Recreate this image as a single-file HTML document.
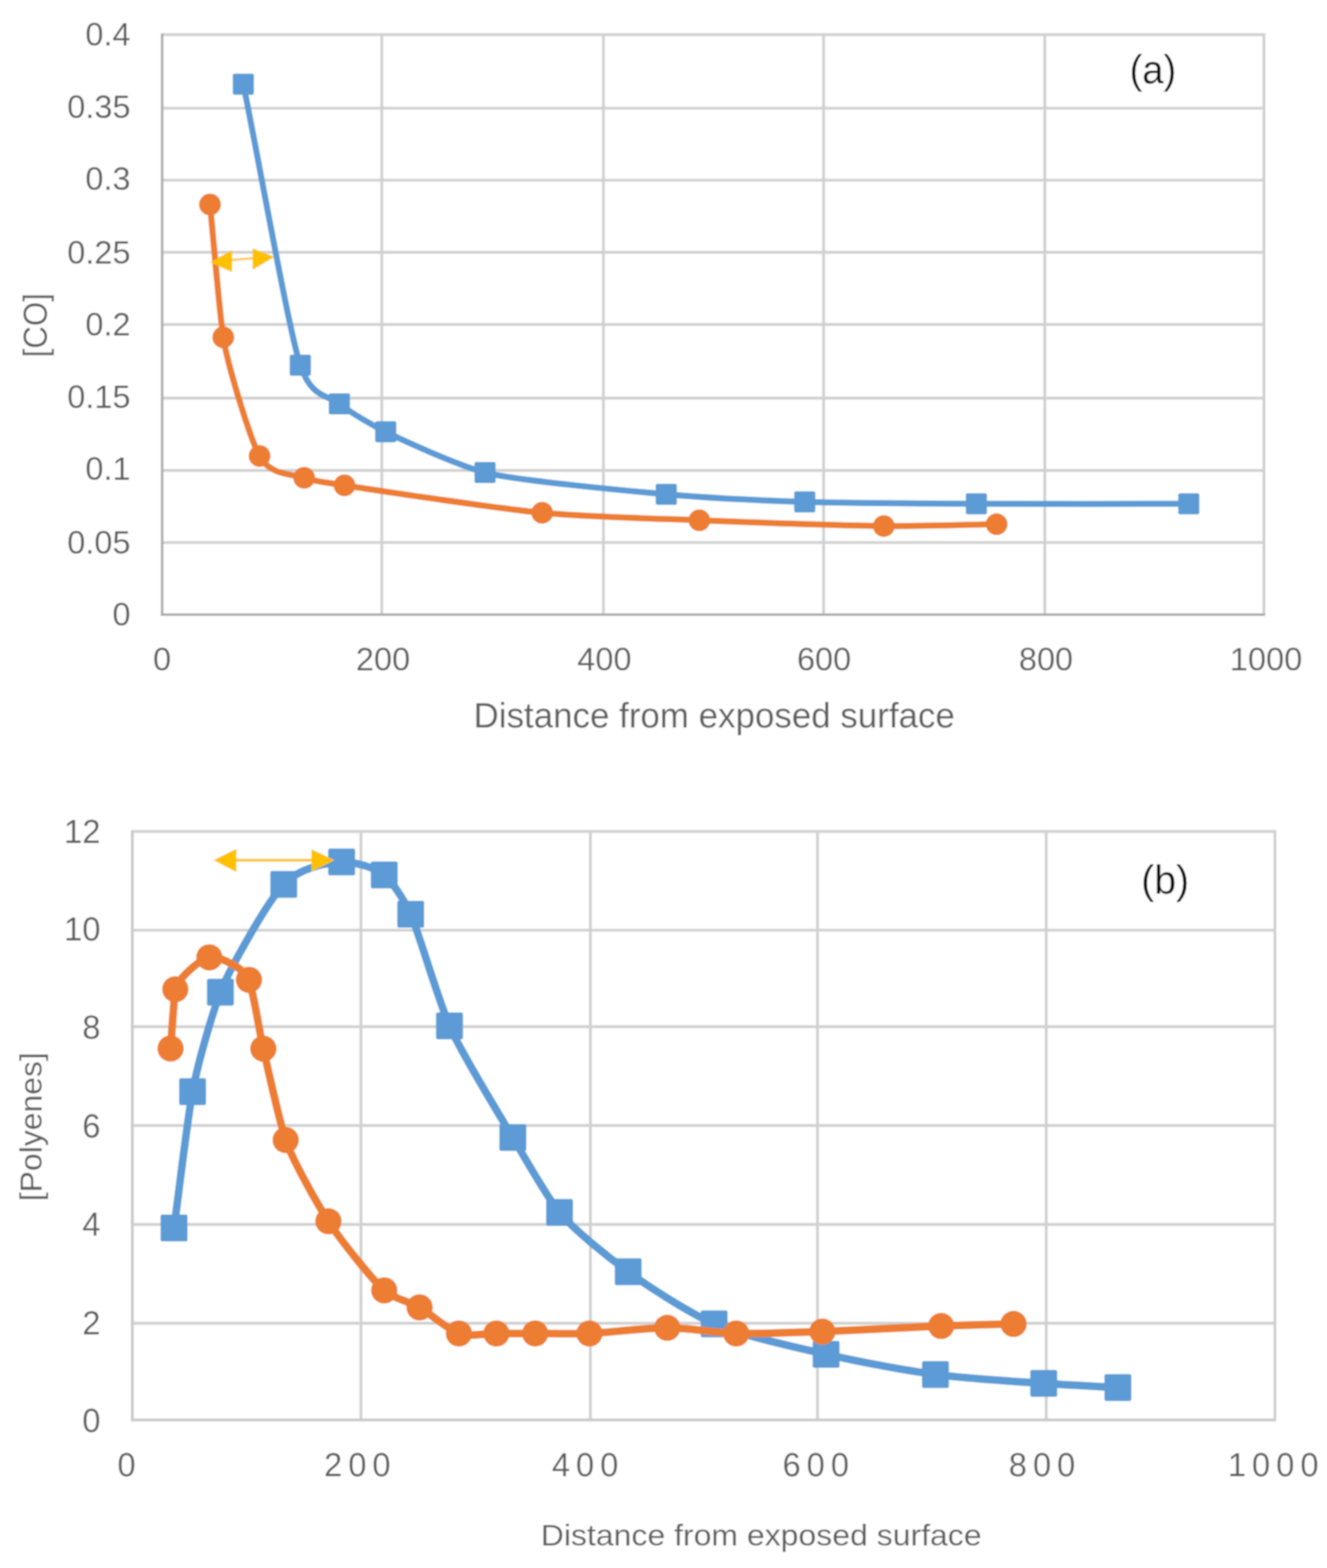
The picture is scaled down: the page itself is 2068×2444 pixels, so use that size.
<!DOCTYPE html>
<html><head><meta charset="utf-8"><title>Chart</title>
<style>html,body{margin:0;padding:0;background:#fff;width:2068px;height:2444px;overflow:hidden}svg{display:block}</style>
</head><body>
<svg width="2068" height="2444" viewBox="0 0 2068 2444" font-family="'Liberation Sans', sans-serif">
<defs><filter id="bl" x="0" y="0" width="1" height="1"><feGaussianBlur stdDeviation="0.8"/></filter></defs>
<g filter="url(#bl)">
<rect width="2068" height="2444" fill="#FFFFFF"/>
<line x1="252.7" y1="54.0" x2="1971.8" y2="54.0" stroke="#D0D0D0" stroke-width="4.4"/>
<line x1="252.7" y1="168.6" x2="1971.8" y2="168.6" stroke="#D0D0D0" stroke-width="4.4"/>
<line x1="252.7" y1="280.9" x2="1971.8" y2="280.9" stroke="#D0D0D0" stroke-width="4.4"/>
<line x1="252.7" y1="393.2" x2="1971.8" y2="393.2" stroke="#D0D0D0" stroke-width="4.4"/>
<line x1="252.7" y1="505.8" x2="1971.8" y2="505.8" stroke="#D0D0D0" stroke-width="4.4"/>
<line x1="252.7" y1="620.5" x2="1971.8" y2="620.5" stroke="#D0D0D0" stroke-width="4.4"/>
<line x1="252.7" y1="733.2" x2="1971.8" y2="733.2" stroke="#D0D0D0" stroke-width="4.4"/>
<line x1="252.7" y1="845.6" x2="1971.8" y2="845.6" stroke="#D0D0D0" stroke-width="4.4"/>
<line x1="595.0" y1="52.0" x2="595.0" y2="958.0" stroke="#D0D0D0" stroke-width="4.4"/>
<line x1="940.4" y1="52.0" x2="940.4" y2="958.0" stroke="#D0D0D0" stroke-width="4.4"/>
<line x1="1283.5" y1="52.0" x2="1283.5" y2="958.0" stroke="#D0D0D0" stroke-width="4.4"/>
<line x1="1628.2" y1="52.0" x2="1628.2" y2="958.0" stroke="#D0D0D0" stroke-width="4.4"/>
<line x1="1969.8" y1="52.0" x2="1969.8" y2="958.0" stroke="#D0D0D0" stroke-width="4.4"/>
<line x1="252.7" y1="52.0" x2="252.7" y2="960.0" stroke="#ADADAD" stroke-width="4"/>
<line x1="250.7" y1="958.0" x2="1971.8" y2="958.0" stroke="#ADADAD" stroke-width="4"/>
<path d="M379.2,131.3 C405.0,258.3 450.3,516.9 468.0,569.2 C485.7,621.5 511.2,615.3 528.9,629.4 C546.6,643.5 580.2,662.5 601.1,673.1 C622.0,683.7 711.0,724.6 755.9,736.5 C800.8,748.4 975.7,764.9 1038.3,770.4 C1100.9,775.9 1191.5,780.1 1254.1,782.2 C1316.7,784.3 1444.0,784.9 1521.6,785.3 C1599.2,785.7 1756.6,785.3 1852.6,785.3" fill="none" stroke="#5B9BD5" stroke-width="9.5" stroke-linejoin="round" stroke-linecap="round"/>
<rect x="362.7" y="114.8" width="33" height="33" rx="3" fill="#5B9BD5"/>
<rect x="451.5" y="552.7" width="33" height="33" rx="3" fill="#5B9BD5"/>
<rect x="512.4" y="612.9" width="33" height="33" rx="3" fill="#5B9BD5"/>
<rect x="584.6" y="656.6" width="33" height="33" rx="3" fill="#5B9BD5"/>
<rect x="739.4" y="720.0" width="33" height="33" rx="3" fill="#5B9BD5"/>
<rect x="1021.8" y="753.9" width="33" height="33" rx="3" fill="#5B9BD5"/>
<rect x="1237.6" y="765.7" width="33" height="33" rx="3" fill="#5B9BD5"/>
<rect x="1505.1" y="768.8" width="33" height="33" rx="3" fill="#5B9BD5"/>
<rect x="1836.1" y="768.8" width="33" height="33" rx="3" fill="#5B9BD5"/>
<path d="M327.2,318.8 C333.2,378.8 341.9,485.9 347.9,525.7 C353.9,565.5 388.1,680.0 404.5,710.8 C420.9,741.6 455.8,738.5 474.0,744.7 C492.2,750.9 518.7,753.5 536.9,756.5 C555.1,759.5 773.8,792.7 844.9,799.3 C916.0,805.9 1018.9,808.2 1089.9,811.0 C1161.0,813.8 1326.4,819.5 1377.4,819.9 C1428.4,820.3 1502.1,817.9 1553.1,817.1" fill="none" stroke="#ED7D31" stroke-width="9.5" stroke-linejoin="round" stroke-linecap="round"/>
<circle cx="327.2" cy="318.8" r="17" fill="#ED7D31"/>
<circle cx="347.9" cy="525.7" r="17" fill="#ED7D31"/>
<circle cx="404.5" cy="710.8" r="17" fill="#ED7D31"/>
<circle cx="474.0" cy="744.7" r="17" fill="#ED7D31"/>
<circle cx="536.9" cy="756.5" r="17" fill="#ED7D31"/>
<circle cx="844.9" cy="799.3" r="17" fill="#ED7D31"/>
<circle cx="1089.9" cy="811.0" r="17" fill="#ED7D31"/>
<circle cx="1377.4" cy="819.9" r="17" fill="#ED7D31"/>
<circle cx="1553.1" cy="817.1" r="17" fill="#ED7D31"/>
<line x1="361" y1="405.3" x2="394" y2="402.5" stroke="#FFC000" stroke-width="3"/>
<polygon points="327.1,408.9 361.6,389.8 361.6,424.0" fill="#FFC000"/>
<polygon points="427.5,400.6 393.7,387.1 393.7,420.4" fill="#FFC000"/>
<text x="203.5" y="71.4" font-size="50.7" text-anchor="end" fill="#5F5F5F">0.4</text>
<text x="203.5" y="183.5" font-size="50.7" text-anchor="end" fill="#5F5F5F">0.35</text>
<text x="203.5" y="295.7" font-size="50.7" text-anchor="end" fill="#5F5F5F">0.3</text>
<text x="203.5" y="411.2" font-size="50.7" text-anchor="end" fill="#5F5F5F">0.25</text>
<text x="203.5" y="523.4" font-size="50.7" text-anchor="end" fill="#5F5F5F">0.2</text>
<text x="203.5" y="635.8" font-size="50.7" text-anchor="end" fill="#5F5F5F">0.15</text>
<text x="203.5" y="748.0" font-size="50.7" text-anchor="end" fill="#5F5F5F">0.1</text>
<text x="203.5" y="862.9" font-size="50.7" text-anchor="end" fill="#5F5F5F">0.05</text>
<text x="203.5" y="975.3" font-size="50.7" text-anchor="end" fill="#5F5F5F">0</text>
<text x="252.7" y="1044.8" font-size="50.7" text-anchor="middle" fill="#5F5F5F">0</text>
<text x="596.8" y="1044.8" font-size="50.7" text-anchor="middle" fill="#5F5F5F">200</text>
<text x="941.8" y="1044.8" font-size="50.7" text-anchor="middle" fill="#5F5F5F">400</text>
<text x="1284.2" y="1044.8" font-size="50.7" text-anchor="middle" fill="#5F5F5F">600</text>
<text x="1630.0" y="1044.8" font-size="50.7" text-anchor="middle" fill="#5F5F5F">800</text>
<text x="1973.0" y="1044.8" font-size="50.7" text-anchor="middle" fill="#5F5F5F">1000</text>
<text x="1113.0" y="1134.4" font-size="55.5" text-anchor="middle" fill="#5F5F5F" textLength="750.0" lengthAdjust="spacingAndGlyphs">Distance from exposed surface</text>
<text x="0" y="0" font-size="51.0" text-anchor="middle" fill="#5F5F5F" transform="translate(72.8,507.0) rotate(-90)" textLength="100.0" lengthAdjust="spacingAndGlyphs">[CO]</text>
<text x="1796.7" y="130.0" font-size="62.5" text-anchor="middle" fill="#111" textLength="73.0" lengthAdjust="spacingAndGlyphs">(a)</text>
<line x1="206.2" y1="1296.0" x2="1988.9" y2="1296.0" stroke="#D0D0D0" stroke-width="4.4"/>
<line x1="206.2" y1="1449.9" x2="1988.9" y2="1449.9" stroke="#D0D0D0" stroke-width="4.4"/>
<line x1="206.2" y1="1600.3" x2="1988.9" y2="1600.3" stroke="#D0D0D0" stroke-width="4.4"/>
<line x1="206.2" y1="1754.3" x2="1988.9" y2="1754.3" stroke="#D0D0D0" stroke-width="4.4"/>
<line x1="206.2" y1="1908.5" x2="1988.9" y2="1908.5" stroke="#D0D0D0" stroke-width="4.4"/>
<line x1="206.2" y1="2062.5" x2="1988.9" y2="2062.5" stroke="#D0D0D0" stroke-width="4.4"/>
<line x1="562.5" y1="1294.0" x2="562.5" y2="2213.2" stroke="#D0D0D0" stroke-width="4.4"/>
<line x1="920.1" y1="1294.0" x2="920.1" y2="2213.2" stroke="#D0D0D0" stroke-width="4.4"/>
<line x1="1274.0" y1="1294.0" x2="1274.0" y2="2213.2" stroke="#D0D0D0" stroke-width="4.4"/>
<line x1="1630.4" y1="1294.0" x2="1630.4" y2="2213.2" stroke="#D0D0D0" stroke-width="4.4"/>
<line x1="1986.9" y1="1294.0" x2="1986.9" y2="2213.2" stroke="#D0D0D0" stroke-width="4.4"/>
<line x1="206.2" y1="1294.0" x2="206.2" y2="2215.2" stroke="#CBCBCB" stroke-width="4.5"/>
<line x1="204.2" y1="2213.2" x2="1988.9" y2="2213.2" stroke="#CBCBCB" stroke-width="4.5"/>
<path d="M271.2,1914.0 C279.6,1852.3 291.7,1747.2 300.1,1701.4 C308.5,1655.6 330.9,1579.8 343.5,1546.6 C356.1,1513.4 416.0,1406.0 442.2,1378.6 C468.4,1351.2 513.1,1344.3 532.4,1343.5 C551.7,1342.7 586.9,1353.1 598.8,1363.8 C610.7,1374.5 628.1,1399.0 640.0,1425.1 C651.9,1451.2 683.0,1558.4 700.5,1599.1 C718.0,1639.8 778.1,1737.5 799.2,1773.0 C820.3,1808.5 850.9,1863.7 872.0,1889.8 C893.1,1915.9 948.0,1959.5 979.0,1982.3 C1010.0,2005.1 1074.1,2046.4 1112.9,2063.4 C1151.7,2080.4 1238.0,2099.6 1287.4,2110.9 C1336.8,2122.2 1408.9,2135.9 1457.8,2142.4 C1506.7,2148.9 1593.0,2154.0 1626.5,2156.3 C1660.0,2158.6 1708.6,2160.9 1742.1,2162.8" fill="none" stroke="#5B9BD5" stroke-width="12" stroke-linejoin="round" stroke-linecap="round"/>
<rect x="250.2" y="1893.0" width="42" height="42" rx="3" fill="#5B9BD5"/>
<rect x="279.1" y="1680.4" width="42" height="42" rx="3" fill="#5B9BD5"/>
<rect x="322.5" y="1525.6" width="42" height="42" rx="3" fill="#5B9BD5"/>
<rect x="421.2" y="1357.6" width="42" height="42" rx="3" fill="#5B9BD5"/>
<rect x="511.4" y="1322.5" width="42" height="42" rx="3" fill="#5B9BD5"/>
<rect x="577.8" y="1342.8" width="42" height="42" rx="3" fill="#5B9BD5"/>
<rect x="619.0" y="1404.1" width="42" height="42" rx="3" fill="#5B9BD5"/>
<rect x="679.5" y="1578.1" width="42" height="42" rx="3" fill="#5B9BD5"/>
<rect x="778.2" y="1752.0" width="42" height="42" rx="3" fill="#5B9BD5"/>
<rect x="851.0" y="1868.8" width="42" height="42" rx="3" fill="#5B9BD5"/>
<rect x="958.0" y="1961.3" width="42" height="42" rx="3" fill="#5B9BD5"/>
<rect x="1091.9" y="2042.4" width="42" height="42" rx="3" fill="#5B9BD5"/>
<rect x="1266.4" y="2089.9" width="42" height="42" rx="3" fill="#5B9BD5"/>
<rect x="1436.8" y="2121.4" width="42" height="42" rx="3" fill="#5B9BD5"/>
<rect x="1605.5" y="2135.3" width="42" height="42" rx="3" fill="#5B9BD5"/>
<rect x="1721.1" y="2141.8" width="42" height="42" rx="3" fill="#5B9BD5"/>
<path d="M265.8,1634.3 C267.9,1607.5 271.1,1556.3 273.2,1541.9 C275.3,1527.5 310.8,1495.2 326.2,1492.3 C341.6,1489.4 381.5,1509.8 388.0,1527.2 C394.5,1544.6 403.9,1605.7 410.4,1634.6 C416.9,1663.5 435.1,1746.7 445.2,1776.9 C455.3,1807.1 492.5,1873.3 511.8,1903.6 C531.1,1933.9 582.8,1997.5 598.8,2011.2 C614.8,2024.9 637.9,2028.7 653.9,2037.8 C669.9,2046.9 698.3,2072.8 715.2,2078.4 C732.1,2084.0 756.7,2078.4 773.6,2078.4 C790.5,2078.4 816.5,2078.4 834.0,2078.4 C851.5,2078.4 894.1,2079.3 918.6,2078.4 C943.1,2077.5 1008.6,2069.5 1039.8,2069.6 C1071.0,2069.7 1116.2,2077.5 1147.4,2078.4 C1178.6,2079.3 1242.6,2076.8 1281.5,2075.5 C1320.4,2074.2 1434.0,2067.9 1466.7,2066.7 C1499.4,2065.5 1546.8,2064.5 1579.5,2063.6" fill="none" stroke="#ED7D31" stroke-width="12" stroke-linejoin="round" stroke-linecap="round"/>
<circle cx="265.8" cy="1634.3" r="20.5" fill="#ED7D31"/>
<circle cx="273.2" cy="1541.9" r="20.5" fill="#ED7D31"/>
<circle cx="326.2" cy="1492.3" r="20.5" fill="#ED7D31"/>
<circle cx="388.0" cy="1527.2" r="20.5" fill="#ED7D31"/>
<circle cx="410.4" cy="1634.6" r="20.5" fill="#ED7D31"/>
<circle cx="445.2" cy="1776.9" r="20.5" fill="#ED7D31"/>
<circle cx="511.8" cy="1903.6" r="20.5" fill="#ED7D31"/>
<circle cx="598.8" cy="2011.2" r="20.5" fill="#ED7D31"/>
<circle cx="653.9" cy="2037.8" r="20.5" fill="#ED7D31"/>
<circle cx="715.2" cy="2078.4" r="20.5" fill="#ED7D31"/>
<circle cx="773.6" cy="2078.4" r="20.5" fill="#ED7D31"/>
<circle cx="834.0" cy="2078.4" r="20.5" fill="#ED7D31"/>
<circle cx="918.6" cy="2078.4" r="20.5" fill="#ED7D31"/>
<circle cx="1039.8" cy="2069.6" r="20.5" fill="#ED7D31"/>
<circle cx="1147.4" cy="2078.4" r="20.5" fill="#ED7D31"/>
<circle cx="1281.5" cy="2075.5" r="20.5" fill="#ED7D31"/>
<circle cx="1466.7" cy="2066.7" r="20.5" fill="#ED7D31"/>
<circle cx="1579.5" cy="2063.6" r="20.5" fill="#ED7D31"/>
<line x1="367" y1="1340.8" x2="487" y2="1340.8" stroke="#FFC000" stroke-width="4"/>
<polygon points="332.9,1340.8 368.3,1323.1 368.3,1359.2" fill="#FFC000"/>
<polygon points="521.4,1340.8 485.3,1323.8 485.3,1358.5" fill="#FFC000"/>
<text x="156.5" y="1314.0" font-size="51.0" text-anchor="end" fill="#5F5F5F">12</text>
<text x="156.5" y="1466.2" font-size="51.0" text-anchor="end" fill="#5F5F5F">10</text>
<text x="156.5" y="1619.4" font-size="51.0" text-anchor="end" fill="#5F5F5F">8</text>
<text x="156.5" y="1772.5" font-size="51.0" text-anchor="end" fill="#5F5F5F">6</text>
<text x="156.5" y="1925.6" font-size="51.0" text-anchor="end" fill="#5F5F5F">4</text>
<text x="156.5" y="2079.6" font-size="51.0" text-anchor="end" fill="#5F5F5F">2</text>
<text x="156.5" y="2231.5" font-size="51.0" text-anchor="end" fill="#5F5F5F">0</text>
<text x="183.0" y="2301.0" font-size="51.0" text-anchor="start" fill="#5F5F5F" letter-spacing="9.3">0</text>
<text x="505.0" y="2301.0" font-size="51.0" text-anchor="start" fill="#5F5F5F" letter-spacing="9.3">200</text>
<text x="859.9" y="2301.0" font-size="51.0" text-anchor="start" fill="#5F5F5F" letter-spacing="9.3">400</text>
<text x="1219.4" y="2301.0" font-size="51.0" text-anchor="start" fill="#5F5F5F" letter-spacing="9.3">600</text>
<text x="1572.0" y="2301.0" font-size="51.0" text-anchor="start" fill="#5F5F5F" letter-spacing="9.3">800</text>
<text x="1913.4" y="2301.0" font-size="51.0" text-anchor="start" fill="#5F5F5F" letter-spacing="9.3">1000</text>
<text x="1186.2" y="2409.2" font-size="47.0" text-anchor="middle" fill="#5F5F5F" textLength="687.0" lengthAdjust="spacingAndGlyphs">Distance from exposed surface</text>
<text x="0" y="0" font-size="48.5" text-anchor="middle" fill="#5F5F5F" transform="translate(65.0,1756.2) rotate(-90)" textLength="232.0" lengthAdjust="spacingAndGlyphs">[Polyenes]</text>
<text x="1815.8" y="1392.5" font-size="62.5" text-anchor="middle" fill="#111" textLength="75.0" lengthAdjust="spacingAndGlyphs">(b)</text>
</g>
</svg>
</body></html>
